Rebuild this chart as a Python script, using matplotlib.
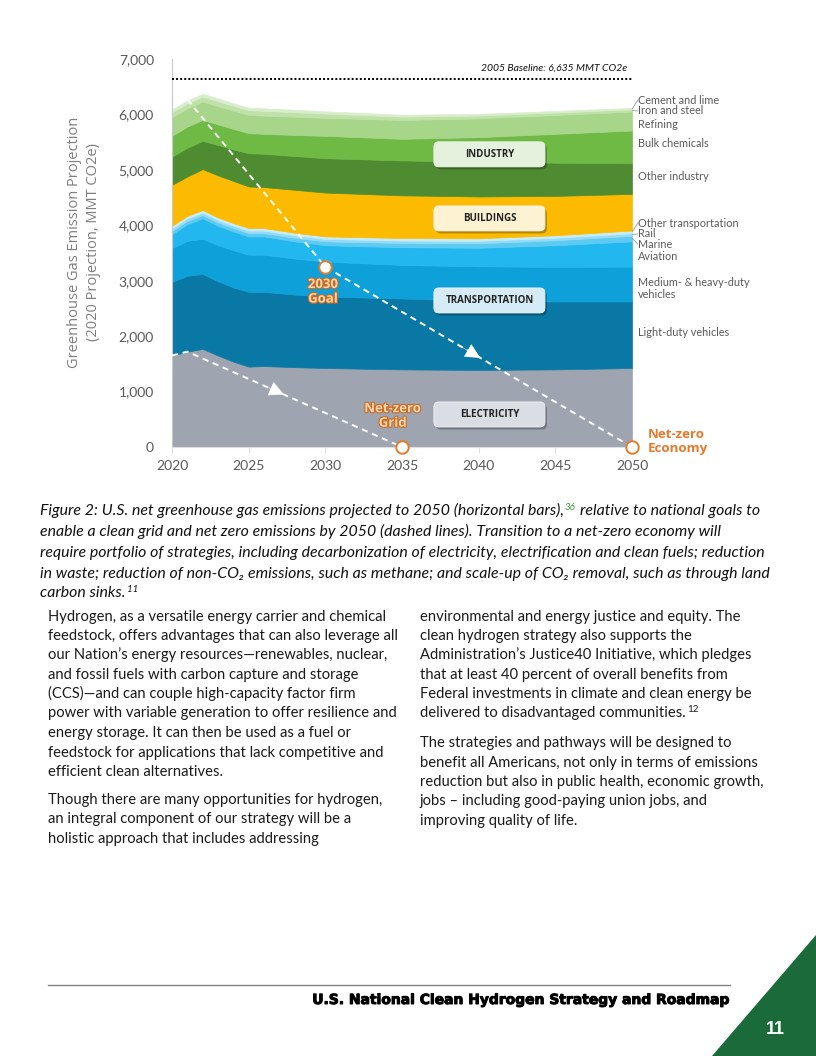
import numpy as np
import matplotlib
matplotlib.use('Agg')
import matplotlib.pyplot as plt
import matplotlib.patheffects as pe
from matplotlib.patches import FancyBboxPatch, Polygon
from matplotlib.transforms import IdentityTransform
from matplotlib.ticker import FuncFormatter

W, H = 816, 1056

# Projected emissions by sector, MMT CO2e (stacked from the bottom)
years = [2020, 2021, 2022, 2023, 2024, 2025, 2026, 2028, 2030, 2035, 2040, 2045, 2050]
electricity = [1650, 1720, 1770, 1650, 1540, 1450, 1460, 1440, 1425, 1400, 1390, 1400, 1425]
light_duty = [1330, 1370, 1350, 1340, 1340, 1350, 1340, 1310, 1290, 1280, 1250, 1225, 1200]
med_heavy = [610, 630, 635, 650, 670, 670, 670, 650, 630, 605, 620, 625, 630]
aviation = [250, 300, 370, 350, 340, 330, 330, 310, 295, 320, 335, 390, 456]
marine = [60, 60, 60, 60, 60, 60, 60, 65, 70, 75, 80, 90, 100]
rail = [45, 45, 45, 45, 45, 45, 45, 45, 45, 45, 45, 45, 45]
other_transport = [45, 45, 45, 45, 45, 45, 45, 45, 45, 45, 45, 45, 50]
buildings = [739, 710, 738, 760, 760, 750, 740, 775, 790, 770, 755, 710, 660]
other_industry = [511, 520, 510, 550, 570, 600, 600, 610, 620, 630, 630, 600, 554]
bulk_chemicals = [374, 380, 379, 370, 370, 363, 360, 380, 404, 390, 440, 520, 590]
refining = [337, 330, 331, 330, 330, 330, 330, 330, 326, 340, 340, 340, 342]
iron_steel = [90, 90, 90, 90, 85, 85, 85, 80, 75, 60, 50, 45, 40]
cement_lime = [50, 50, 50, 50, 45, 45, 45, 45, 40, 35, 30, 28, 26]

layer_colors = ['#9ea5b1', '#0a78a4', '#0ea0d8', '#23b7f0', '#5dcaf2', '#93dbf6',
                '#c4ecfa', '#fcbb00', '#4e8b31', '#6fba45', '#a7d68b', '#c0e2aa', '#d8eecb']

# national goal paths (dashed lines)
grid_years = [2020, 2021, 2035]
grid_vals = [1650, 1720, 0]
econ_years = [2021, 2030, 2050]
econ_vals = [6270, 3250, 0]
baseline_2005 = 6635

# right-hand sector labels
label_texts = ['Cement and lime', 'Iron and steel', 'Refining', 'Bulk chemicals', 'Other industry',
               'Other transportation', 'Rail', 'Marine', 'Aviation',
               'Medium- & heavy-duty\nvehicles', 'Light-duty vehicles']
label_y = [6260, 6062, 5827, 5484, 4889, 4041, 3843, 3662, 3428, 2860, 2057]

# sector boxes
box_texts = ['INDUSTRY', 'BUILDINGS', 'TRANSPORTATION', 'ELECTRICITY']
box_y = [5280, 4124, 2644, 587]
box_faces = ['#e4f1dd', '#fdf3d2', '#d5ebf5', '#dadde3']

fig = plt.figure(figsize=(W / 100, H / 100), dpi=100)
ax = fig.add_axes([172 / W, 1 - 447 / H, 460 / W, 388 / H])
ax.set_xlim(2020, 2050)
ax.set_ylim(0, 7000)

layers = [electricity, light_duty, med_heavy, aviation, marine, rail, other_transport,
          buildings, other_industry, bulk_chemicals, refining, iron_steel, cement_lime]
polys = ax.stackplot(years, layers, colors=layer_colors)
for p, c in zip(polys, layer_colors):
    p.set_edgecolor(c)
    p.set_linewidth(0.5)

ax.plot([2020, 2050], [baseline_2005, baseline_2005], color='black', lw=1.4,
        linestyle=(0, (1, 1.1)), zorder=4)
ax.text(2049.7, 6840, '2005 Baseline: 6,635 MMT CO2e', ha='right', va='center',
        fontsize=7.5, style='italic', family='Lato', color='#111111')

# dashed goal lines
dash = dict(color='white', lw=1.4, linestyle=(0, (3.2, 2.4)), zorder=5)
ax.plot(grid_years, grid_vals, **dash)
ax.plot(econ_years, econ_vals, **dash)

def arrow_on(xs, ys, x0, x1):
    y0 = np.interp(x0, xs, ys)
    y1 = np.interp(x1, xs, ys)
    ax.annotate('', xy=(x1, y1), xytext=(x0, y0),
                arrowprops=dict(arrowstyle='-|>,head_length=1.0,head_width=0.5',
                                fc='white', ec='white', lw=0.3, shrinkA=0, shrinkB=0),
                zorder=6)

arrow_on(grid_years, grid_vals, 2026.2, 2027.3)
arrow_on(econ_years, econ_vals, 2038.9, 2040.1)

# goal markers
ax.plot([econ_years[1], econ_years[2], grid_years[2]], [econ_vals[1], econ_vals[2], grid_vals[2]],
        'o', ms=9, mfc='white', mec='#e57c2c', mew=1.4, zorder=7, clip_on=False)

goal_fx = [pe.withStroke(linewidth=1.6, foreground='#c96a22')]
ax.text(2029.85, 2800, '2030\nGoal', ha='center', va='center', fontsize=9.5, weight='bold',
        family='Open Sans', color='#fbd6ab', linespacing=1.15, path_effects=goal_fx, zorder=8)
ax.text(2034.4, 560, 'Net-zero\nGrid', ha='center', va='center', fontsize=9.5, weight='bold',
        family='Open Sans', color='#fbd6ab', linespacing=1.15, path_effects=goal_fx, zorder=8)
ax.text(2051.05, 100, 'Net-zero\nEconomy', ha='left', va='center', fontsize=9.5, weight='bold',
        family='Open Sans', color='#e8782a', linespacing=1.15, clip_on=False)

# right labels and leader lines
for t, y in zip(label_texts, label_y):
    ax.text(2050.4, y, t, ha='left', va='center', fontsize=7.8, family='Lato',
            color='#5a5a5a', linespacing=1.05, clip_on=False)
tops = np.cumsum(np.array(layers)[:, -1])
mids = tops - np.array(layers)[:, -1] / 2
for idx, li in [(12, 0), (11, 1), (6, 5), (5, 6), (4, 7)]:
    ax.plot([2050.02, 2050.38], [mids[idx], label_y[li]], color='#9a9a9a', lw=0.6, clip_on=False)

# axes styling
for s in ['top', 'right']:
    ax.spines[s].set_visible(False)
ax.spines['left'].set_color('#c8c8c8')
ax.spines['bottom'].set_color('#dedede')
ax.set_xticks(range(2020, 2051, 5))
ax.set_yticks(range(0, 7001, 1000))
ax.yaxis.set_major_formatter(FuncFormatter(lambda v, p: f'{int(v):,}'))
ax.tick_params(axis='y', length=0, pad=13, labelsize=10, labelcolor='#595959')
ax.tick_params(axis='x', length=4, color='#dedede', pad=5, labelsize=10, labelcolor='#595959')
for lab in ax.get_xticklabels() + ax.get_yticklabels():
    lab.set_family('Lato')

fig.text(84 / W, 1 - 242 / H, 'Greenhouse Gas Emission Projection\n(2020 Projection, MMT CO2e)',
         rotation=90, ha='center', va='center', fontsize=10.5, family='Open Sans',
         color='#7f7f7f', linespacing=1.3)

# sector boxes drawn in pixel space so corners stay round
fig.canvas.draw()
for t, y, fc in zip(box_texts, box_y, box_faces):
    px, py = ax.transData.transform((2040.7, y))
    bw, bh = 111, 25
    fig.add_artist(FancyBboxPatch((px - bw / 2 + 2, py - bh / 2 - 2.5), bw, bh,
                                  boxstyle='round,pad=0,rounding_size=5', transform=IdentityTransform(),
                                  fc=(0, 0, 0, 0.28), ec='none', zorder=5))
    fig.add_artist(FancyBboxPatch((px - bw / 2, py - bh / 2), bw, bh,
                                  boxstyle='round,pad=0,rounding_size=5', transform=IdentityTransform(),
                                  fc=fc, ec='#f4f4f4', lw=0.6, zorder=6))
    fig.text(px / W, py / H, t, ha='center', va='center', fontsize=7, weight='bold',
             family='Open Sans', color='#222222', zorder=7)

# caption and body text
renderer = fig.canvas.get_renderer()

def text_w(s, **kw):
    t = fig.text(0, 0, s, **kw)
    w = t.get_window_extent(renderer).width
    t.remove()
    return w

def put(x, y, s, **kw):
    fig.text(x / W, 1 - y / H, s, ha='left', va='baseline', **kw)

cap = dict(family=['Lato', 'DejaVu Sans'], style='italic', fontsize=11.4, color='#111111')
sup_cap = dict(family='Lato', style='italic', fontsize=7)
cap_lines = ['Figure 2: U.S. net greenhouse gas emissions projected to 2050 (horizontal bars),',
             'enable a clean grid and net zero emissions by 2050 (dashed lines). Transition to a net-zero economy will',
             'require portfolio of strategies, including decarbonization of electricity, electrification and clean fuels; reduction',
             'in waste; reduction of non-CO\u2082 emissions, such as methane; and scale-up of CO\u2082 removal, such as through land',
             'carbon sinks.']
cap_base = [515, 536, 557, 578, 597]
sp = text_w('a a', **cap) - text_w('aa', **cap)
for i, (s, y) in enumerate(zip(cap_lines, cap_base)):
    put(40, y, s, **cap)
    if i == 0:
        x = 40 + text_w(s, **cap) + 1
        put(x, y - 5, '36', color='#3c8c3c', **sup_cap)
        x += text_w('36', **sup_cap) + sp
        put(x, y, 'relative to national goals to', **cap)
    if i == 4:
        x = 40 + text_w(s, **cap) + 1
        put(x, y - 5, '11', color='#111111', **sup_cap)

body = dict(family='Lato', fontsize=10.6, color='#1a1a1a')
left_lines = ['Hydrogen, as a versatile energy carrier and chemical',
              'feedstock, offers advantages that can also leverage all',
              'our Nation\u2019s energy resources\u2014renewables, nuclear,',
              'and fossil fuels with carbon capture and storage',
              '(CCS)\u2014and can couple high-capacity factor firm',
              'power with variable generation to offer resilience and',
              'energy storage. It can then be used as a fuel or',
              'feedstock for applications that lack competitive and',
              'efficient clean alternatives.',
              'Though there are many opportunities for hydrogen,',
              'an integral component of our strategy will be a',
              'holistic approach that includes addressing']
left_base = [620.5, 640, 659.5, 679, 698, 717.5, 737, 756.5, 776, 804, 823.5, 843]
for s, y in zip(left_lines, left_base):
    put(48, y, s, **body)

right_lines = ['environmental and energy justice and equity. The',
               'clean hydrogen strategy also supports the',
               'Administration\u2019s Justice40 Initiative, which pledges',
               'that at least 40 percent of overall benefits from',
               'Federal investments in climate and clean energy be',
               'delivered to disadvantaged communities.',
               'The strategies and pathways will be designed to',
               'benefit all Americans, not only in terms of emissions',
               'reduction but also in public health, economic growth,',
               'jobs \u2013 including good-paying union jobs, and',
               'improving quality of life.']
right_base = [620.5, 640, 659.5, 679, 698, 717.5, 747, 766.5, 786, 805, 824.5]
for i, (s, y) in enumerate(zip(right_lines, right_base)):
    put(420, y, s, **body)
    if i == 5:
        x = 420 + text_w(s, **body) + 1
        put(x, y - 6, '12', family='Lato', fontsize=7, color='#1a1a1a')

# footer
fig.add_artist(plt.Line2D([48 / W, 730 / W], [1 - 985 / H, 1 - 985 / H], color='#808080', lw=1))
fig.text(730 / W, 1 - 1000 / H, 'U.S. National Clean Hydrogen Strategy and Roadmap', ha='right',
         va='center', fontsize=10.0, weight='bold', family='DejaVu Sans', color='black',
         path_effects=[pe.withStroke(linewidth=0.7, foreground='black')])
fig.add_artist(Polygon([[712 / W, 0], [1, 1 - 935 / H], [1, 0]], closed=True,
                       transform=fig.transFigure, fc='#1b6b3a', ec='none'))
fig.text(775 / W, 1 - 1030 / H, '11', ha='center', va='center', fontsize=13, weight='bold',
         family='Liberation Sans', color='white')

fig.savefig('out.png', dpi=100)
